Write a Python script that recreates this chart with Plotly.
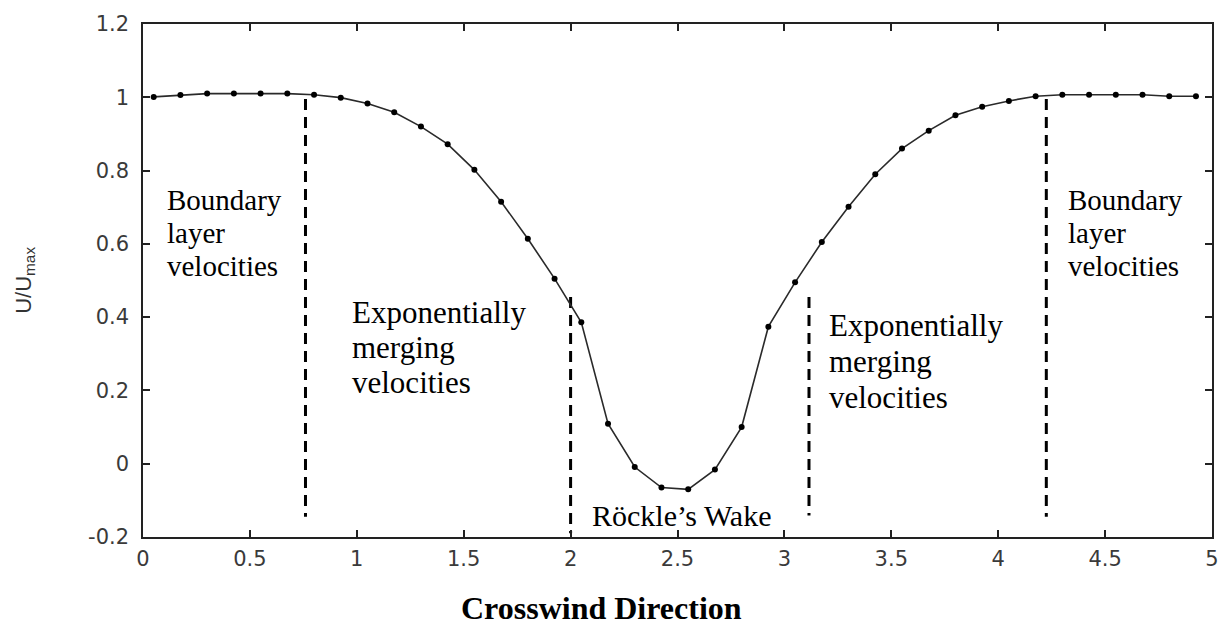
import plotly.graph_objects as go

# Crosswind positions of the sampled profile
crosswind = [0.05, 0.175, 0.30, 0.425, 0.55, 0.675, 0.80, 0.925, 1.05, 1.175,
             1.30, 1.425, 1.55, 1.675, 1.80, 1.925, 2.05, 2.175, 2.30, 2.425,
             2.55, 2.675, 2.80, 2.925, 3.05, 3.175, 3.30, 3.425, 3.55, 3.675,
             3.80, 3.925, 4.05, 4.175, 4.30, 4.425, 4.55, 4.675, 4.80, 4.925]

# Normalised velocity U/Umax
u_ratio = [1.001, 1.006, 1.010, 1.010, 1.010, 1.010, 1.007, 0.999, 0.983, 0.959,
           0.920, 0.872, 0.802, 0.715, 0.614, 0.505, 0.386, 0.109, -0.009, -0.065,
           -0.070, -0.016, 0.100, 0.374, 0.495, 0.605, 0.701, 0.790, 0.860, 0.909,
           0.951, 0.974, 0.990, 1.003, 1.007, 1.007, 1.007, 1.007, 1.003, 1.003]

# Zone boundaries (dashed separators)
zone_x = [0.76, 2.0, 3.115, 4.225]
zone_top = [0.995, 0.455, 0.455, 0.995]
zone_bottom = [-0.145, -0.19, -0.141, -0.145]

x_tickvals = [0, 0.5, 1, 1.5, 2, 2.5, 3, 3.5, 4, 4.5, 5]
x_ticktext = ["0", "0.5", "1", "1.5", "2", "2.5", "3", "3.5", "4", "4.5", "5"]
y_tickvals = [-0.2, 0, 0.2, 0.4, 0.6, 0.8, 1.0, 1.2]
y_ticktext = ["-0.2", "0", "0.2", "0.4", "0.6", "0.8", "1", "1.2"]

# Zone labels: one entry per text line (x, y, text, font size)
boundary_lines = ["Boundary", "layer", "velocities"]
merging_lines = ["Exponentially", "merging", "velocities"]
zone_labels = (
    [(0.105, y, t, 29) for y, t in zip([0.719, 0.630, 0.539], boundary_lines)]
    + [(4.315, y, t, 29) for y, t in zip([0.719, 0.630, 0.539], boundary_lines)]
    + [(0.97, y, t, 31) for y, t in zip([0.414, 0.318, 0.221], merging_lines)]
    + [(3.20, y, t, 31) for y, t in zip([0.378, 0.280, 0.181], merging_lines)]
    + [(2.09, -0.141, "Röckle’s Wake", 30)]
)

fig = go.Figure()

for zx, zt, zb in zip(zone_x, zone_top, zone_bottom):
    fig.add_trace(go.Scatter(
        x=[zx, zx], y=[zt, zb], mode="lines",
        line=dict(color="black", width=3, dash="11px,7px"),
        hoverinfo="skip", showlegend=False))

fig.add_trace(go.Scatter(
    x=crosswind, y=u_ratio, mode="lines+markers",
    line=dict(color="#2a2a2a", width=1.6),
    marker=dict(color="black", size=6, symbol="circle"),
    showlegend=False))

serif = "Liberation Serif, Times New Roman, serif"
for lx, ly, txt, fs in zone_labels:
    fig.add_annotation(x=lx, y=ly, xref="x", yref="y", text=txt, showarrow=False,
                       xanchor="left", yanchor="middle", align="left",
                       font=dict(family=serif, size=fs, color="black"))

fig.add_annotation(x=0.429, y=-0.138, xref="paper", yref="paper",
                   text="<b>Crosswind Direction</b>", showarrow=False,
                   xanchor="center", yanchor="middle",
                   font=dict(family=serif, size=32, color="black"))

fig.add_annotation(x=-0.111, y=0.5, xref="paper", yref="paper",
                   text="U/U<sub>max</sub>", showarrow=False, textangle=-90,
                   xanchor="center", yanchor="middle",
                   font=dict(family="Liberation Sans, Arial, sans-serif", size=22, color="#333333"))

axis_common = dict(
    showgrid=False, zeroline=False, showline=True, linecolor="#222222", linewidth=1.5,
    mirror="ticks", ticks="inside", ticklen=7, tickwidth=1.5, tickcolor="#222222",
    tickfont=dict(family="DejaVu Sans, sans-serif", size=21, color="#3a3a3a"),
)

fig.update_xaxes(range=[0, 5], tickvals=x_tickvals, ticktext=x_ticktext,
                 ticklabelstandoff=2, **axis_common)
fig.update_yaxes(range=[-0.2, 1.2], tickvals=y_tickvals, ticktext=y_ticktext,
                 ticklabelstandoff=8, **axis_common)

fig.update_layout(
    width=1231, height=627,
    margin=dict(l=143, r=16, t=16, b=90),
    paper_bgcolor="white", plot_bgcolor="white",
)

fig.write_html("out.html")
